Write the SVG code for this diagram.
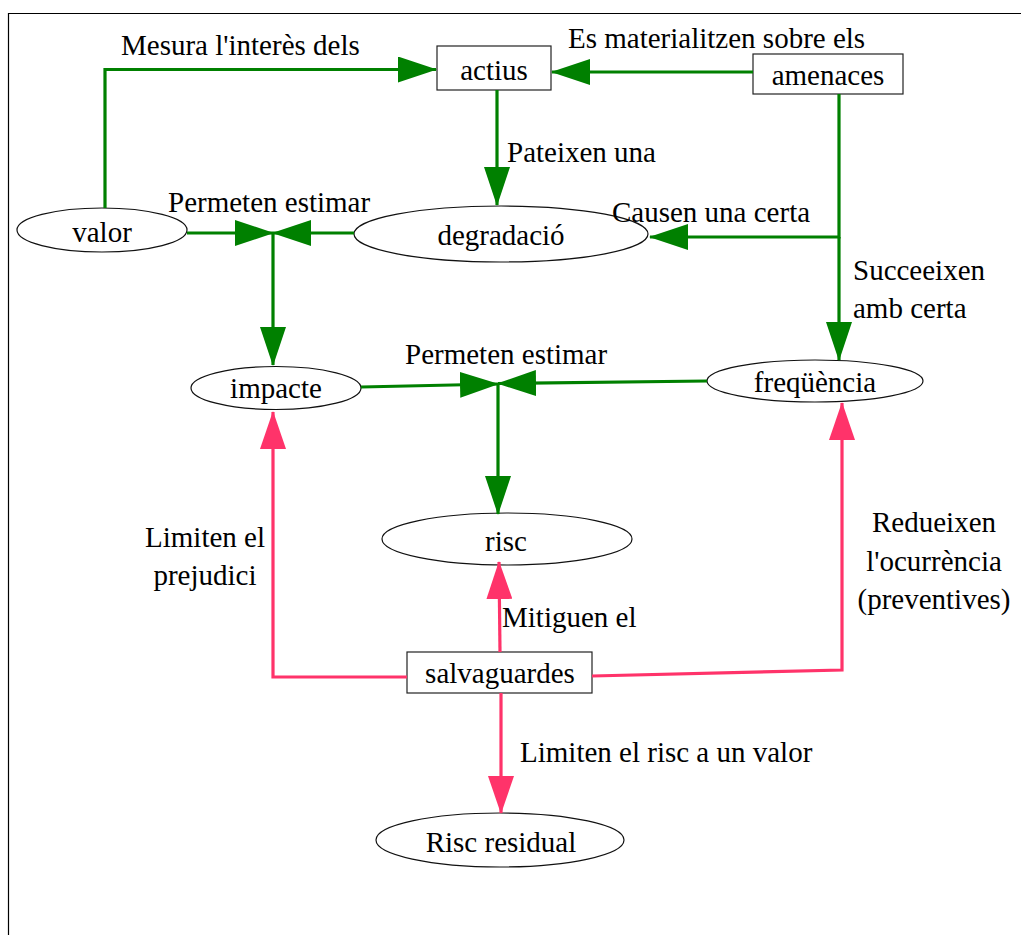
<svg xmlns="http://www.w3.org/2000/svg" width="1021" height="935" viewBox="0 0 1021 935">
  <style>
    .box { fill: #ffffff; stroke: #222222; stroke-width: 1.2; }
    .oval { fill: #ffffff; stroke: #111111; stroke-width: 1.2; }
    .t { font-family: "Liberation Serif", "Times New Roman", serif; font-size: 29px; fill: #000000; }
    .mid { text-anchor: middle; }
    .g { fill: none; stroke: #008000; stroke-width: 3.2; }
    .p { fill: none; stroke: #ff336a; stroke-width: 3.2; }
  </style>
  <defs>
    <marker id="arrowGreen" viewBox="0 0 39 26" refX="38" refY="13" markerWidth="39" markerHeight="26" markerUnits="userSpaceOnUse" orient="auto">
      <path d="M0,0 L39,13 L0,26 Z" fill="#008000"/>
    </marker>
    <marker id="arrowPink" viewBox="0 0 38 26" refX="37" refY="13" markerWidth="38" markerHeight="26" markerUnits="userSpaceOnUse" orient="auto">
      <path d="M0,0 L38,13 L0,26 Z" fill="#ff336a"/>
    </marker>
  </defs>

  <rect width="1021" height="935" fill="#ffffff"/>
  <!-- page frame -->
  <path d="M8.5,935 V13.5 H1021" fill="none" stroke="#000000" stroke-width="1.2"/>

  <!-- nodes -->
  <g id="actius">
    <rect class="box" x="437" y="46" width="114" height="44"/>
    <text class="t mid" x="494" y="80">actius</text>
  </g>
  <g id="amenaces">
    <rect class="box" x="753" y="54" width="150" height="40"/>
    <text class="t mid" x="828" y="85">amenaces</text>
  </g>
  <g id="valor">
    <ellipse class="oval" cx="102" cy="230" rx="85" ry="22"/>
    <text class="t mid" x="102" y="242">valor</text>
  </g>
  <g id="degradacio">
    <ellipse class="oval" cx="501" cy="234" rx="147" ry="28"/>
    <text class="t mid" x="501" y="245">degradació</text>
  </g>
  <g id="impacte">
    <ellipse class="oval" cx="276" cy="388" rx="85" ry="21.5"/>
    <text class="t mid" x="276" y="398">impacte</text>
  </g>
  <g id="frequencia">
    <ellipse class="oval" cx="815" cy="381" rx="108" ry="21"/>
    <text class="t mid" x="815" y="392">freqüència</text>
  </g>
  <g id="risc">
    <ellipse class="oval" cx="507" cy="539" rx="125" ry="26"/>
    <text class="t mid" x="506" y="551">risc</text>
  </g>
  <g id="salvaguardes">
    <rect class="box" x="407" y="652" width="185" height="41"/>
    <text class="t mid" x="500" y="683">salvaguardes</text>
  </g>
  <g id="risc-residual">
    <ellipse class="oval" cx="500" cy="840" rx="124" ry="27"/>
    <text class="t mid" x="501" y="852">Risc residual</text>
  </g>

  <!-- connectors -->
  <g id="connectors">
    <!-- valor -> actius -->
    <path class="g" d="M105,208 V69.5 H436" marker-end="url(#arrowGreen)"/>
    <!-- amenaces -> actius -->
    <path class="g" d="M753,72 H552" marker-end="url(#arrowGreen)"/>
    <!-- actius -> degradació -->
    <path class="g" d="M497,90 V205" marker-end="url(#arrowGreen)"/>
    <!-- amenaces -> degradació / freqüència -->
    <path class="g" d="M839,94 V237 H650" marker-end="url(#arrowGreen)"/>
    <path class="g" d="M839,237 V360" marker-end="url(#arrowGreen)"/>
    <!-- valor + degradació -> impacte -->
    <path class="g" d="M187,233 H273" marker-end="url(#arrowGreen)"/>
    <path class="g" d="M354,233 H273" marker-end="url(#arrowGreen)"/>
    <path class="g" d="M273,233 V365" marker-end="url(#arrowGreen)"/>
    <!-- impacte + freqüència -> risc -->
    <path class="g" d="M361,387 L498,384" marker-end="url(#arrowGreen)"/>
    <path class="g" d="M707,381 L498,383.5" marker-end="url(#arrowGreen)"/>
    <path class="g" d="M498,384 V514" marker-end="url(#arrowGreen)"/>
    <!-- salvaguardes -> impacte / risc / freqüència / risc residual -->
    <path class="p" d="M407,677 H273 V412" marker-end="url(#arrowPink)"/>
    <path class="p" d="M500,652 L499,562" marker-end="url(#arrowPink)"/>
    <path class="p" d="M592,676 L842,670 V403" marker-end="url(#arrowPink)"/>
    <path class="p" d="M501,693 V813" marker-end="url(#arrowPink)"/>

    <!-- connector labels -->
    <text class="t" x="121" y="55">Mesura l'interès dels</text>
    <text class="t" x="568" y="48">Es materialitzen sobre els</text>
    <text class="t" x="507" y="162">Pateixen una</text>
    <text class="t" x="168" y="212">Permeten estimar</text>
    <text class="t" x="612" y="222">Causen una certa</text>
    <text class="t" x="853" y="280">Succeeixen</text>
    <text class="t" x="853" y="318">amb certa</text>
    <text class="t" x="405" y="364">Permeten estimar</text>
    <text class="t mid" x="205" y="547">Limiten el</text>
    <text class="t mid" x="205" y="585">prejudici</text>
    <text class="t" x="502" y="627">Mitiguen el</text>
    <text class="t mid" x="934" y="532">Redueixen</text>
    <text class="t mid" x="934" y="571">l'ocurrència</text>
    <text class="t mid" x="934" y="609">(preventives)</text>
    <text class="t" x="520" y="762">Limiten el risc a un valor</text>
  </g>
</svg>
